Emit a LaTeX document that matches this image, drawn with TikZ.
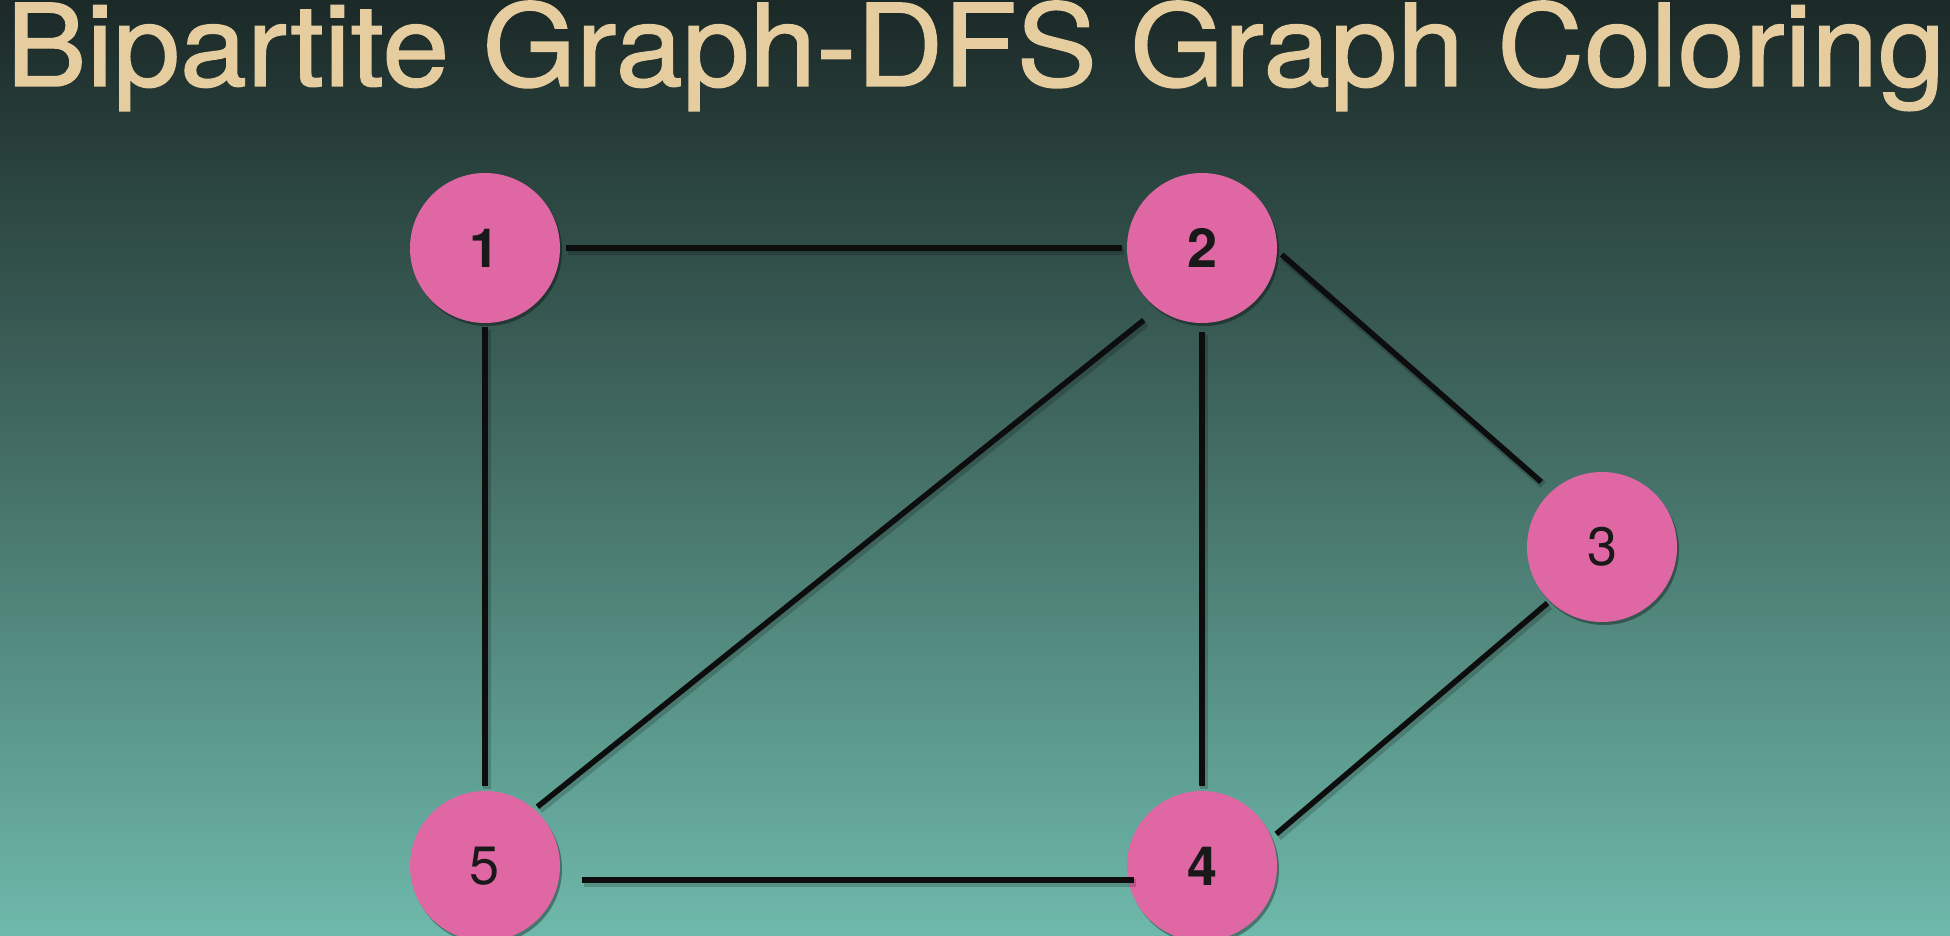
\documentclass[tikz,border=0pt]{standalone}
\usepackage{fontspec}
\setmainfont{TeX Gyre Heros}
\newfontfamily\titlefont{TeX Gyre Heros}[FakeBold=1.2]
\usetikzlibrary{shadows}
\definecolor{bgtop}{RGB}{27,41,39}
\definecolor{bgmid}{RGB}{68,111,102}
\definecolor{bgbot}{RGB}{110,185,171}
\definecolor{titlecol}{RGB}{229,205,160}
\definecolor{nodepink}{RGB}{223,103,163}
\tikzset{
  vertex/.style={circle, fill=nodepink, minimum size=150pt, inner sep=0pt,
    text=black!90, font=\fontsize{54}{58}\selectfont,
    drop shadow={shadow xshift=2pt, shadow yshift=-3pt, opacity=0.35, fill=black}},
  edge/.style={draw=black!95, line width=5.5pt,
    preaction={draw=black, opacity=0.18, line width=8pt, transform canvas={shift={(2pt,-3pt)}}}},
}
\begin{document}
\begin{tikzpicture}[x=1pt,y=-1pt]
\useasboundingbox (0,0) rectangle (1950,936);
\shade[top color=bgtop, bottom color=bgbot, middle color=bgmid] (0,0) rectangle (1950,936);
\node[anchor=base west, inner sep=0pt, text=titlecol, xscale=1.055, font=\titlefont\fontsize{114}{118}\selectfont] (title) at (6,86) {Bipartite Graph-DFS Graph Coloring};
\node[vertex] (n1) at (485,248) {\bfseries 1};
\node[vertex] (n2) at (1202,248) {\bfseries 2};
\node[vertex] (n3) at (1602,547) {3};
\node[vertex] (n4) at (1202,866) {\bfseries 4};
\node[vertex] (n5) at (485,866) {5};
\draw[edge, shorten <=6pt, shorten >=5pt] (n1.east) -- (n2.west);
\draw[edge, shorten <=4pt, shorten >=5pt] (n1.south) -- (n5.north);
\draw[edge, shorten <=9pt, shorten >=5pt] (n2.south) -- (n4.north);
\draw[edge, shorten <=18pt, shorten >=4pt] (n2.234) -- (n5.49);
\draw[edge, shorten <=6pt, shorten >=14pt] (n2.-2) -- (n3.132);
\draw[edge, shorten <=3pt, shorten >=6pt] (n3.226) -- (n4.22);
\draw[edge, shorten <=22pt, shorten >=-7pt] ([yshift=-14pt]n5.east) -- ([yshift=-14pt]n4.west);
\end{tikzpicture}
\end{document}
